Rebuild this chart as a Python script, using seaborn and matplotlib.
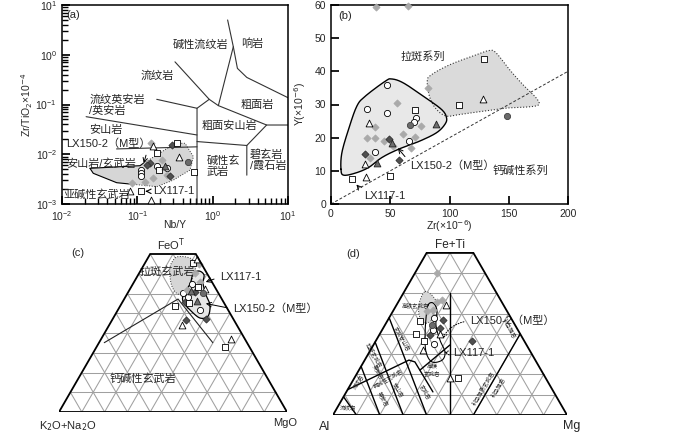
import numpy as np
import pandas as pd
import matplotlib
matplotlib.use('Agg')
import matplotlib.pyplot as plt
import seaborn as sns

sns.set_theme(style='ticks')
plt.rcParams['font.family'] = ['Liberation Sans', 'Noto Sans CJK SC', 'DejaVu Sans']

# ---------------- (a) Zr/TiO2 vs Nb/Y ----------------
a_nby = [0.151, 0.163, 0.286, 0.333, 0.185, 0.148, 0.135, 0.112, 0.112, 0.112, 0.084, 0.126, 0.163,
         0.196, 0.181, 0.245, 0.361, 0.233, 0.245, 0.272, 0.475, 0.566, 0.080, 0.111, 0.151, 0.213]
a_zrti = [0.0171, 0.0149, 0.0153, 0.0166, 0.0107, 0.00676, 0.00622, 0.00482, 0.0042, 0.00365, 0.0026,
          0.0028, 0.00329, 0.00482, 0.0058, 0.00522, 0.00893, 0.0058, 0.00383, 0.0037, 0.00708,
          0.00446, 0.00185, 0.00185, 0.0012, 0.00766]
a_group = ['gd', 'tr', 'dd', 'sq', 'sq', 'dd', 'dd', 'oc', 'oc', 'oc', 'gd', 'gd', 'gd',
           'sq', 'oc', 'oc', 'tr', 'dt', 'gd', 'dd', 'dc', 'sq', 'tr', 'sq', 'tr', 'gd']

# field boundaries (Nb/Y, Zr/TiO2)
wf_lines = [
    ([1.58, 1.88, 2.13, 2.84, 10.0], [5.0, 1.45, 0.533, 0.35, 0.137]),
    ([1.88, 1.19], [1.45, 0.095]),
    ([0.316, 0.90, 1.19, 5.2, 10.0], [0.72, 0.127, 0.095, 0.0387, 0.0387]),
    ([0.90, 0.62], [0.127, 0.084]),
    ([0.181, 0.62, 0.62], [0.127, 0.084, 0.001]),
    ([0.0209, 0.62], [0.0569, 0.0244]),
    ([0.053, 0.62], [0.0128, 0.0141]),
    ([0.62, 2.84, 2.84], [0.018, 0.015, 0.0038]),
    ([5.2, 2.84], [0.0387, 0.015]),
]
a_reg_x = [0.0235, 0.1086, 0.12, 0.181, 0.317, 0.43, 0.555, 0.501, 0.301, 0.181, 0.1086, 0.08, 0.0532, 0.026]
a_reg_y = [0.00522, 0.00589, 0.00658, 0.00966, 0.0166, 0.0166, 0.00893, 0.00482, 0.00303, 0.00223,
           0.00241, 0.00252, 0.00268, 0.00414]
a_labels = [('碱性流纹岩', 0.295, 1.57), ('响岩', 2.36, 1.7), ('流纹岩', 0.109, 0.374),
            ('流纹英安岩\n/英安岩', 0.0231, 0.0977), ('粗面岩', 2.36, 0.098), ('安山岩', 0.0231, 0.0307),
            ('粗面安山岩', 0.716, 0.037), ('安山岩/玄武岩', 0.0115, 0.00657), ('碱性玄\n武岩', 0.835, 0.0058),
            ('碧玄岩\n/霞石岩', 3.14, 0.00755), ('亚碱性玄武岩', 0.0105, 0.00152), ('(a)', 0.0115, 6.3)]

# ---------------- (b) Y vs Zr ----------------
b_zr = [37.8, 64.7, 47.6, 30.8, 47.6, 55.5, 70.6, 71.4, 70.0, 66.7, 75.9, 88.2, 31.7, 37.3, 30.8, 37.3,
        44.8, 49.0, 51.8, 52.7, 61.0, 70.9, 65.8, 67.5, 37.3, 28.9, 32.5, 38.7, 57.4, 28.9, 29.4, 50.1,
        17.4, 82.0, 108.1, 128.0, 129.4, 148.7]
b_y = [59.3, 59.7, 36.0, 28.7, 27.4, 30.5, 28.2, 25.9, 24.7, 23.8, 23.5, 24.2, 24.3, 23.2, 20.0, 20.0,
       19.1, 19.5, 18.3, 17.5, 21.0, 20.3, 18.9, 16.8, 15.6, 15.0, 14.0, 12.5, 13.2, 12.0, 8.0, 8.4,
       7.5, 35.0, 30.0, 31.7, 43.7, 26.5]
b_group = ['gd', 'gd', 'oc', 'oc', 'oc', 'gd', 'sq', 'oc', 'oc', 'dc', 'gd', 'dt', 'tr', 'gd', 'gd', 'gd',
           'gd', 'dd', 'dt', 'gd', 'gd', 'gd', 'oc', 'gd', 'oc', 'dd', 'gd', 'dt', 'dd', 'tr', 'tr', 'sq',
           'sq', 'gd', 'sq', 'tr', 'sq', 'dc']
b_sol_zr = [8.4, 10.6, 20.4, 31.7, 42.9, 56.9, 75.1, 89.1, 96.1, 97.5, 93.3, 77.9, 61.1, 51.3, 45.7, 28.9, 21.8, 14.8, 9.2]
b_sol_y = [10.5, 8.7, 9.3, 11.0, 14.0, 16.5, 19.0, 21.5, 24.0, 26.0, 28.5, 32.5, 36.5, 37.7, 37.0, 32.5, 29.5, 22.5, 15.5]
b_dot_zr = [81.2, 84.9, 100.3, 122.7, 133.9, 139.5, 150.7, 161.9, 173.1, 175.4, 167.5, 150.7, 139.5, 122.7, 108.7, 97.5, 89.1, 83.5]
b_dot_y = [37.0, 39.0, 42.0, 45.0, 46.3, 45.5, 40.5, 36.0, 32.0, 30.0, 29.3, 29.0, 28.5, 27.7, 27.0, 26.5, 28.5, 32.0]
b_line_zr = [0, 200]
b_line_y = [0, 40]

# ---------------- (c) AFM (FeOT / MgO in %) ----------------
c_feo = [75.6, 74.8, 77.5, 70.4, 64.8, 63.4, 66.0, 62.3, 60.3, 61.4, 61.8, 60.8, 58.1, 55.8, 55.2, 56.4,
         60.3, 51.6, 53.8, 46.6, 44.1, 47.1, 37.0, 33.1]
c_mgo = [21.1, 24.1, 21.6, 24.4, 26.1, 29.1, 28.8, 32.9, 24.1, 27.2, 25.1, 29.2, 27.7, 27.4, 29.5, 32.5,
         32.9, 36.0, 24.0, 32.4, 31.8, 40.8, 56.8, 56.4]
c_group = ['sq', 'gd', 'tr', 'gd', 'oc', 'sq', 'gd', 'tr', 'oc', 'dt', 'gd', 'dd', 'oc', 'dd', 'sq', 'dt',
           'dc', 'oc', 'sq', 'dd', 'tr', 'dd', 'tr', 'sq']
c_dot_fe = [75.9, 78.5, 78.5, 77.0, 73.9, 68.9, 64.3, 60.8, 59.7, 63.3, 68.4, 72.9]
c_dot_mg = [11.6, 12.4, 16.6, 20.2, 23.1, 24.3, 25.7, 25.3, 22.3, 18.0, 14.5, 12.2]
c_sol_fe = [58.7, 64.8, 69.9, 71.4, 69.4, 65.3, 59.2, 54.2, 48.6, 47.6, 51.6, 55.2]
c_sol_mg = [25.0, 25.1, 23.8, 25.7, 28.9, 30.5, 34.9, 39.1, 41.1, 38.0, 31.7, 27.2]
c_bound_fe = [35.1, 57.2, 35.1]
c_bound_mg = [2.3, 23.6, 49.9]

# ---------------- (d) Jensen (Fe+Ti / Mg in %) ----------------
d_fe = [69.9, 54.3, 56.8, 55.9, 51.8, 51.3, 46.4, 47.7, 46.7, 44.4, 42.0, 42.8, 40.0, 39.8, 36.5, 34.9,
        32.1, 36.7, 18.1, 18.4, 39.5]
d_mg = [9.6, 21.0, 18.1, 16.4, 17.0, 14.5, 14.0, 19.4, 23.8, 20.0, 21.9, 24.3, 25.7, 15.6, 20.8, 25.9,
        22.3, 41.0, 41.0, 44.3, 21.7]
d_group = ['gd', 'tr', 'gd', 'gd', 'gd', 'gd', 'sq', 'oc', 'dd', 'dc', 'oc', 'dd', 'tr', 'sq', 'sq', 'oc',
           'tr', 'dd', 'tr', 'sq', 'dd']
d_dot_fe = [60.9, 59.2, 55.1, 51.0, 46.9, 45.3, 47.7, 52.7, 57.6]
d_dot_mg = [8.9, 12.6, 16.8, 17.4, 18.8, 16.7, 13.4, 10.2, 8.7]
d_sol_fe = [54.3, 55.3, 51.8, 44.4, 37.0, 31.1, 27.1, 26.2, 31.1, 39.5, 47.9]
d_sol_mg = [13.5, 15.1, 18.5, 21.8, 27.2, 32.3, 33.1, 29.2, 24.2, 19.6, 15.8]
d_lines = [
    ([0, 60], [50, 20]),
    ([0, 40], [60, 60]),
    ([9, 0], [0, 10]),
    ([24, 0], [0, 20]),
    ([36, 0], [0, 30]),
    ([48, 0], [0, 40]),
    ([12.5, 27.1, 26.2, 11.4], [0, 18.9, 21.9, 37.0]),
    ([22.2, 34.6], [26.1, 32.7]),
]
d_labels = [('流纹岩', 0.064, 0.031, 0), ('流纹岩', 0.107, 0.142, 58), ('钙碱性玄武岩', 0.232, 0.157, 30),
            ('英安岩', 0.215, 0.071, -60), ('安山岩', 0.279, 0.107, -60), ('玄武岩', 0.393, 0.10, -60),
            ('英安岩', 0.194, 0.185, -60), ('拉斑玄武岩', 0.172, 0.256, -60), ('玄武安山岩', 0.294, 0.328, -60),
            ('高铁玄武岩', 0.35, 0.467, 0), ('高镁\n玄武岩', 0.422, 0.192, 0),
            ('科马提质玄武岩', 0.642, 0.114, 60), ('科马提岩', 0.706, 0.121, 60), ('科马提岩', 0.756, 0.37, -60)]

# marker styles
styles = {
    'oc': dict(marker='o', color='white', edgecolor='black', s=20),
    'gd': dict(marker='D', color='#a9a9a9', edgecolor='#a9a9a9', s=13),
    'dd': dict(marker='D', color='#505050', edgecolor='#303030', s=13),
    'sq': dict(marker='s', color='white', edgecolor='black', s=18),
    'tr': dict(marker='^', color='white', edgecolor='black', s=24),
    'dc': dict(marker='o', color='#6b6b6b', edgecolor='#404040', s=20),
    'dt': dict(marker='^', color='#6e6e6e', edgecolor='#202020', s=24),
}


def draw_points(ax, x, y, groups):
    df = pd.DataFrame({'x': x, 'y': y, 'g': groups})
    for g, st in styles.items():
        sub = df[df['g'] == g]
        if sub.empty:
            continue
        sns.scatterplot(data=sub, x='x', y='y', ax=ax, marker=st['marker'], color=st['color'],
                        edgecolor=st['edgecolor'], s=st['s'], linewidth=0.6, zorder=5,
                        legend=False, clip_on=False)
    ax.set_xlabel('')
    ax.set_ylabel('')


def smooth_closed(x, y, n=16):
    pts = np.column_stack([x, y])
    P = np.vstack([pts[-1], pts, pts[0], pts[1]])
    t = np.linspace(0, 1, n, endpoint=False)[:, None]
    out = []
    for i in range(1, len(pts) + 1):
        p0, p1, p2, p3 = P[i - 1], P[i], P[i + 1], P[i + 2]
        out.append(0.5 * (2 * p1 + (-p0 + p2) * t + (2 * p0 - 5 * p1 + 4 * p2 - p3) * t ** 2
                          + (-p0 + 3 * p1 - 3 * p2 + p3) * t ** 3))
    out = np.vstack(out)
    out = np.vstack([out, out[:1]])
    return out[:, 0], out[:, 1]


def to_xy(fe, mg):
    fe = np.asarray(fe, float) / 100
    mg = np.asarray(mg, float) / 100
    return mg + fe / 2, fe * np.sqrt(3) / 2


def tri_frame(ax, cut=0.8):
    gc = dict(color='#a0a0a0', lw=0.75, zorder=1.5)
    for k in np.arange(1, 10) / 10:
        fe_end = min(1 - k, cut)
        ax.plot(*to_xy([0, fe_end * 100], [k * 100, k * 100]), **gc)
        ax.plot(*to_xy([0, fe_end * 100], [(1 - k) * 100, (1 - k - fe_end) * 100]), **gc)
        if k < cut:
            ax.plot(*to_xy([k * 100, k * 100], [0, (1 - k) * 100]), **gc)
    ax.plot(*to_xy([0, 0, cut * 100, cut * 100, 0], [0, 100, (1 - cut) * 100, 0, 0]),
            color='black', lw=1.3, zorder=6, solid_joinstyle='miter')
    ax.set_xlim(0, 1)
    ax.set_ylim(0, np.sqrt(3) / 2)
    ax.axis('off')


fs = 8
tfs = 7.5
fig = plt.figure(figsize=(7, 4.33), dpi=100)

# ---- panel (a)
ax_a = fig.add_axes([62 / 700, 1 - 204 / 433, 226 / 700, 199 / 433])
ax_a.set_xscale('log')
ax_a.set_yscale('log')
ax_a.set_xlim(1e-2, 1e1)
ax_a.set_ylim(1e-3, 1e1)
ax_a.fill(a_reg_x, a_reg_y, color='#d6d6d6', lw=0, zorder=2)
ax_a.plot(a_reg_x[:3], a_reg_y[:3], color='black', lw=0.8, zorder=3)
ax_a.plot(a_reg_x[11:] + a_reg_x[:1], a_reg_y[11:] + a_reg_y[:1], color='black', lw=0.8, zorder=3)
ax_a.plot(a_reg_x[2:12], a_reg_y[2:12], color='#333333', lw=0.7, ls=':', zorder=3)
for xs, ys in wf_lines:
    ax_a.plot(xs, ys, color='#333333', lw=0.8, zorder=2)
draw_points(ax_a, a_nby, a_zrti, a_group)
for txt, x, y in a_labels:
    ax_a.text(x, y, txt, ha='left', va='center', fontsize=fs, linespacing=1.1, zorder=7)
ax_a.annotate('LX150-2（M型）', xy=(0.119, 0.0058), xytext=(0.0115, 0.0161), ha='left', va='center',
              fontsize=fs, arrowprops=dict(arrowstyle='->', lw=0.7, color='black', relpos=(0.97, 0.3)))
ax_a.annotate('LX117-1', xy=(0.128, 0.0018), xytext=(0.163, 0.0018), ha='left', va='center',
              fontsize=fs, arrowprops=dict(arrowstyle='->', lw=0.8, color='black', relpos=(0, 0.5)))
ax_a.set_xlabel('Nb/Y', fontsize=tfs)
ax_a.set_ylabel('Zr/TiO$_2$×10$^{-4}$', fontsize=tfs)
ax_a.xaxis.set_label_coords(0.5, -0.08)
ax_a.yaxis.set_label_coords(-0.12, 0.5)
ax_a.tick_params(which='both', direction='in', labelsize=tfs, color='black')
for sp in ax_a.spines.values():
    sp.set_linewidth(1.1)
    sp.set_color('black')

# ---- panel (b)
ax_b = fig.add_axes([331 / 700, 1 - 204 / 433, 237 / 700, 199 / 433])
ax_b.set_xlim(0, 200)
ax_b.set_ylim(0, 60)
sx, sy = smooth_closed(b_dot_zr, b_dot_y)
ax_b.fill(sx, sy, color='#dadada', lw=0, zorder=1)
ax_b.plot(sx, sy, color='#333333', lw=0.8, ls=':', zorder=2)
sx, sy = smooth_closed(b_sol_zr, b_sol_y)
ax_b.fill(sx, sy, color='#e8e8e8', lw=0, zorder=1)
ax_b.plot(sx, sy, color='black', lw=1.0, zorder=2)
ax_b.plot(b_line_zr, b_line_y, color='#333333', lw=0.7, ls=(0, (3, 2)), zorder=2)
draw_points(ax_b, b_zr, b_y, b_group)
ax_b.text(6.4, 56.7, '(b)', fontsize=fs, ha='left', va='center')
ax_b.text(58.3, 44.5, '拉斑系列', fontsize=fs, ha='left', va='center')
ax_b.text(136.1, 10.0, '钙碱性系列', fontsize=fs, ha='left', va='center')
ax_b.annotate('LX150-2（M型）', xy=(54.9, 17.5), xytext=(66.7, 11.5), ha='left', va='center', fontsize=fs,
              arrowprops=dict(arrowstyle='->', lw=0.7, color='black', relpos=(0, 0.8)))
ax_b.annotate('LX117-1', xy=(19.9, 6.5), xytext=(28, 2.3), ha='left', va='center', fontsize=fs,
              arrowprops=dict(arrowstyle='->', lw=0.7, color='black', relpos=(0, 0.8)))
ax_b.set_xticks([0, 50, 100, 150, 200])
ax_b.set_yticks(range(0, 61, 10))
ax_b.set_xlabel('Zr(×10$^{-6}$)', fontsize=tfs)
ax_b.set_ylabel('Y(×10$^{-6}$)', fontsize=tfs)
ax_b.xaxis.set_label_coords(0.5, -0.072)
ax_b.yaxis.set_label_coords(-0.097, 0.5)
ax_b.tick_params(direction='in', labelsize=tfs, color='black')
for sp in ax_b.spines.values():
    sp.set_linewidth(1.1)
    sp.set_color('black')

# ---- panel (c)
ax_c = fig.add_axes([59 / 700, 1 - 412 / 433, 228 / 700, 197.5 / 433])
tri_frame(ax_c)
sx, sy = smooth_closed(*to_xy(c_dot_fe, c_dot_mg))
ax_c.fill(sx, sy, color='#d6d6d6', lw=0, zorder=2)
ax_c.plot(sx, sy, color='#333333', lw=0.7, ls=':', zorder=3)
sx, sy = smooth_closed(*to_xy(c_sol_fe, c_sol_mg))
ax_c.fill(sx, sy, color='#e6e6e6', lw=0, zorder=2)
ax_c.plot(sx, sy, color='black', lw=0.9, zorder=3)
ax_c.plot(*to_xy(c_bound_fe, c_bound_mg), color='#222222', lw=0.8, zorder=3)
cx, cy = to_xy(c_feo, c_mgo)
draw_points(ax_c, cx, cy, c_group)
ax_c.text(0.355, 0.614, '拉斑玄武岩', fontsize=fs, ha='left', va='center', zorder=4)
ax_c.text(0.368, 0.145, '钙碱性玄武岩', fontsize=fs, ha='center', va='center')
ax_c.text(0.491, 0.735, 'FeO$^{\\mathrm{T}}$', fontsize=fs, ha='center', va='center')
ax_c.text(0.083, 0.697, '(c)', fontsize=fs, ha='center', va='center')
ax_c.text(0.04, -0.062, 'K$_2$O+Na$_2$O', fontsize=fs, ha='center', va='center')
ax_c.text(0.99, -0.05, 'MgO', fontsize=fs, ha='center', va='center')
ax_c.annotate('LX117-1', xy=(0.632, 0.566), xytext=(0.706, 0.592), ha='left', va='center', fontsize=fs,
              arrowprops=dict(arrowstyle='->', lw=0.7, color='black', relpos=(0, 0.5)))
ax_c.annotate('LX150-2（M型）', xy=(0.632, 0.478), xytext=(0.763, 0.452), ha='left', va='center', fontsize=fs,
              arrowprops=dict(arrowstyle='->', lw=0.7, color='black', relpos=(0, 0.5)))

# ---- panel (d)
ax_d = fig.add_axes([333 / 700, 1 - 415 / 433, 234 / 700, 202.6 / 433])
tri_frame(ax_d)
for fe, mg in d_lines:
    ax_d.plot(*to_xy(fe, mg), color='black', lw=1.0, zorder=3)
sx, sy = smooth_closed(*to_xy(d_dot_fe, d_dot_mg))
ax_d.fill(sx, sy, color='#d6d6d6', lw=0, zorder=2)
ax_d.plot(sx, sy, color='#333333', lw=0.7, ls=':', zorder=3)
sx, sy = smooth_closed(*to_xy(d_sol_fe, d_sol_mg))
ax_d.plot(sx, sy, color='black', lw=0.8, zorder=3)
dx, dy = to_xy(d_fe, d_mg)
draw_points(ax_d, dx, dy, d_group)
for txt, x, y, rot in d_labels:
    ax_d.text(x, y, txt, fontsize=4, ha='center', va='center', rotation=rot, linespacing=1.0, zorder=4)
ax_d.text(0.5, 0.726, 'Fe+Ti', fontsize=8.5, ha='center', va='center')
ax_d.text(0.087, 0.69, '(d)', fontsize=fs, ha='center', va='center')
ax_d.text(-0.034, -0.05, 'Al', fontsize=9, ha='center', va='center')
ax_d.text(1.02, -0.046, 'Mg', fontsize=9, ha='center', va='center')
ax_d.annotate('LX150-2（M型）', xy=(0.462, 0.316), xytext=(0.585, 0.402), ha='left', va='center', fontsize=fs,
              arrowprops=dict(arrowstyle='->', lw=0.7, ls=':', color='black', relpos=(0, 0.5),
                              connectionstyle='arc3,rad=0.3'))
ax_d.annotate('LX117-1', xy=(0.462, 0.269), xytext=(0.513, 0.265), ha='left', va='center', fontsize=fs,
              arrowprops=dict(arrowstyle='->', lw=0.7, ls=':', color='black', relpos=(0, 0.5)))

fig.savefig('out.png', dpi=100)
